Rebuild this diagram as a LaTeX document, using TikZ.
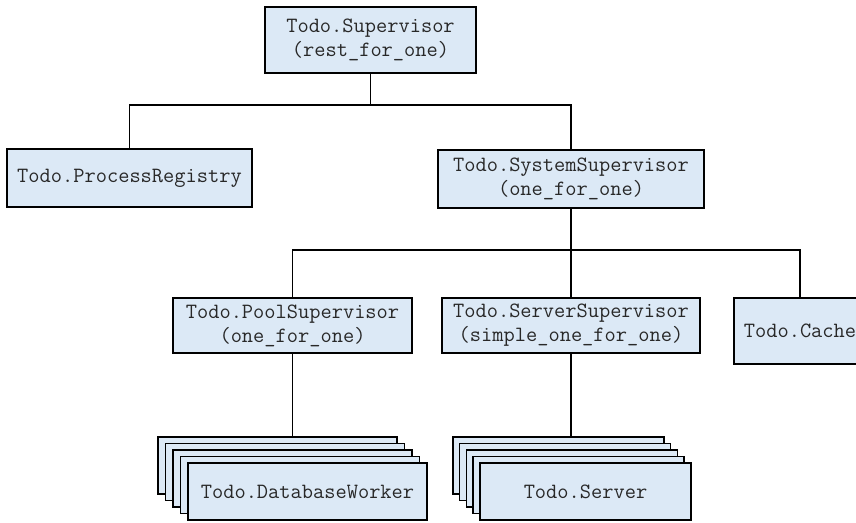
\documentclass[tikz,border=0pt]{standalone}
\usepackage{fontspec}
\definecolor{boxfill}{RGB}{220,233,246}
\definecolor{boxtext}{RGB}{40,40,40}
\tikzset{
  proc/.style={draw=black, line width=1.6pt, fill=boxfill, text=boxtext,
    inner sep=0pt, align=center,
    font=\fontsize{21.8}{24}\selectfont\ttfamily},
  link/.style={draw=black, line width=1.1pt},
}
\begin{document}
\begin{tikzpicture}[x=1pt,y=-1pt]
  \useasboundingbox (0,0) rectangle (856,522);
  \clip (0,0) rectangle (856,522);

  % supervision tree
  \node[proc, minimum width=211pt, minimum height=66pt] (sup) at (370.5,40)
    {Todo.Supervisor\\(rest\_for\_one)};
  \node[proc, minimum width=245pt, minimum height=58pt] (reg) at (129.5,178)
    {Todo.ProcessRegistry};
  \node[proc, minimum width=266pt, minimum height=58pt] (sys) at (571,179)
    {Todo.SystemSupervisor\\(one\_for\_one)};
  \node[proc, minimum width=239pt, minimum height=55pt] (pool) at (292.5,325.5)
    {Todo.PoolSupervisor\\(one\_for\_one)};
  \node[proc, minimum width=258pt, minimum height=55pt] (srv) at (571,325.5)
    {Todo.ServerSupervisor\\(simple\_one\_for\_one)};
  \node[proc, minimum width=132pt, minimum height=66pt] (cache) at (800,331)
    {Todo.Cache};

  % worker pool: stacked copies
  \foreach \k in {4,3,2,1} {
    \node[proc, minimum width=239pt, minimum height=57pt] (dbw\k)
      at ({307.5-7.5*\k},{491.5-6.5*\k}) {};
  }
  \node[proc, minimum width=239pt, minimum height=57pt] (dbw) at (307.5,491.5)
    {Todo.DatabaseWorker};

  % dynamic servers: stacked copies
  \foreach \k in {4,3,2,1} {
    \node[proc, minimum width=211pt, minimum height=57pt] (ts\k)
      at ({585.5-6.8*\k},{491.5-6.5*\k}) {};
  }
  \node[proc, minimum width=211pt, minimum height=57pt] (ts) at (585.5,491.5)
    {Todo.Server};

  % connectors
  \coordinate (busA) at (370.5,105);
  \coordinate (busB) at (571,250);
  \draw[link] (sup.south) -- (busA);
  \draw[link] (reg.north) |- (busA) -| (sys.north);
  \draw[link] (sys.south) -- (busB);
  \draw[link] (pool.north) |- (busB) -| (cache.north);
  \draw[link] (busB) -- (srv.north);
  \draw[link] (pool.south) -- (pool.south |- dbw4.north);
  \draw[link] (srv.south) -- (srv.south |- ts4.north);
\end{tikzpicture}
\end{document}
